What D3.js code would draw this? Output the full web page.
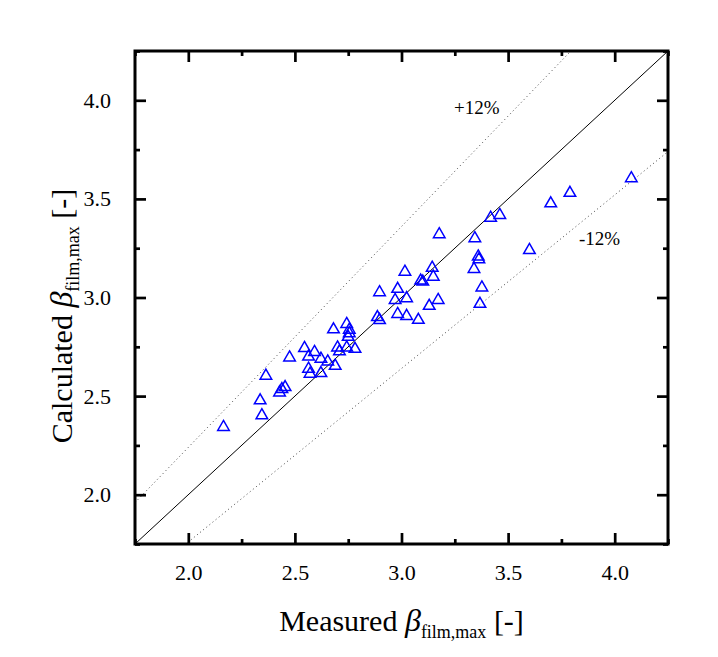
<!DOCTYPE html>
<html><head><meta charset="utf-8">
<script src="https://cdn.jsdelivr.net/npm/d3@7"></script>
<style>body{margin:0;background:#fff;} svg{display:block;}</style>
</head><body>
<svg id="c" width="718" height="657"></svg>
<script>
const measured = [2.165,2.337,2.345,2.364,2.428,2.439,2.454,2.475,2.545,2.564,2.592,2.622,2.654,2.564,2.571,2.622,2.689,2.681,2.700,2.709,2.743,2.782,2.743,2.755,2.755,2.750,2.887,2.897,2.897,2.970,2.982,2.982,3.016,3.024,3.024,3.079,3.090,3.100,3.130,3.144,3.149,3.172,3.177,3.344,3.340,3.360,3.363,3.368,3.377,3.418,3.461,3.600,3.700,3.790,4.078];
const calculated = [2.343,2.478,2.402,2.603,2.518,2.535,2.545,2.695,2.743,2.700,2.723,2.689,2.675,2.638,2.613,2.616,2.653,2.838,2.746,2.726,2.746,2.739,2.865,2.836,2.818,2.800,2.900,2.885,3.026,2.987,3.043,2.916,3.130,2.996,2.906,2.886,3.085,3.080,2.957,3.150,3.105,2.987,3.320,3.300,3.144,3.207,3.193,2.967,3.050,3.404,3.418,3.240,3.477,3.530,3.604];
const xTicks = [2.0,2.5,3.0,3.5,4.0];
const yTicks = [2.0,2.5,3.0,3.5,4.0];
const minorTicks = [1.75,2.25,2.75,3.25,3.75,4.25];
const bandFactors = [1.12, 0.88];
const bandLabels = ["+12%", "-12%"];
const domain = [1.75, 4.25];

const svg = d3.select("#c");
const L = 135, R = 668, T = 51, B = 544;
const x = d3.scaleLinear().domain(domain).range([L, R]);
const y = d3.scaleLinear().domain(domain).range([B, T]);
const font = "'Liberation Serif','Times New Roman',serif";

const clip = svg.append("clipPath").attr("id","pc").append("rect")
  .attr("x",L).attr("y",T).attr("width",R-L).attr("height",B-T);
const g = svg.append("g").attr("clip-path","url(#pc)");

// 1:1 line
g.append("line").attr("x1",x(domain[0])).attr("y1",y(domain[0]))
  .attr("x2",x(domain[1])).attr("y2",y(domain[1]))
  .attr("stroke","#000").attr("stroke-width",1);
// +-12% lines
bandFactors.forEach(f=>{
  g.append("line").attr("x1",x(domain[0])).attr("y1",y(domain[0]*f))
   .attr("x2",x(domain[1])).attr("y2",y(domain[1]*f))
   .attr("stroke","#444").attr("stroke-width",1).attr("stroke-dasharray","1,3");
});

// points
const sym = d3.symbol().type(d3.symbolTriangle).size(58);
svg.append("g").selectAll("path").data(measured.map((m,i)=>[m,calculated[i]]))
  .join("path").attr("d",sym)
  .attr("transform",d=>`translate(${x(d[0])},${y(d[1])})`)
  .attr("fill","none").attr("stroke","#0000ff").attr("stroke-width",1.5);

// axes: ticks inward on all four sides
const axB = d3.axisBottom(x).tickValues(xTicks).tickFormat(d3.format(".1f")).tickSizeInner(-11).tickSizeOuter(0).tickPadding(20);
const axL = d3.axisLeft(y).tickValues(yTicks).tickFormat(d3.format(".1f")).tickSizeInner(-11).tickSizeOuter(0).tickPadding(24);
const axT = d3.axisTop(x).tickValues(xTicks).tickFormat("").tickSizeInner(-11).tickSizeOuter(0);
const axR = d3.axisRight(y).tickValues(yTicks).tickFormat("").tickSizeInner(-11).tickSizeOuter(0);
const mB = d3.axisBottom(x).tickValues(minorTicks).tickFormat("").tickSizeInner(-5).tickSizeOuter(0);
const mL = d3.axisLeft(y).tickValues(minorTicks).tickFormat("").tickSizeInner(-5).tickSizeOuter(0);
const mT = d3.axisTop(x).tickValues(minorTicks).tickFormat("").tickSizeInner(-5).tickSizeOuter(0);
const mR = d3.axisRight(y).tickValues(minorTicks).tickFormat("").tickSizeInner(-5).tickSizeOuter(0);

function style(sel){
  sel.select(".domain").remove();
  sel.selectAll(".tick line").attr("stroke","#000").attr("stroke-width",2.7);
  sel.selectAll(".tick text").attr("font-family",font).attr("font-size",22).attr("fill","#000");
}
[[axB,`translate(0,${B})`],[mB,`translate(0,${B})`],[axT,`translate(0,${T})`],[mT,`translate(0,${T})`],
 [axL,`translate(${L},0)`],[mL,`translate(${L},0)`],[axR,`translate(${R},0)`],[mR,`translate(${R},0)`]]
 .forEach(([a,t])=>svg.append("g").attr("transform",t).call(a).call(style));

svg.append("rect").attr("x",L).attr("y",T).attr("width",R-L).attr("height",B-T)
  .attr("fill","none").attr("stroke","#000").attr("stroke-width",3);

// band labels
svg.append("text").attr("x",454).attr("y",114).attr("font-family",font).attr("font-size",19).text(bandLabels[0]);
svg.append("text").attr("x",579).attr("y",245).attr("font-family",font).attr("font-size",19).text(bandLabels[1]);

// axis titles
function title(sel){
  sel.attr("font-family",font).attr("font-size",30).attr("fill","#000");
  sel.append("tspan").text(sel.attr("data-pre")+" ");
  sel.append("tspan").attr("font-style","italic").attr("font-size",32).text("β");
  sel.append("tspan").attr("font-size",18).attr("dy",7).text("film,max");
  sel.append("tspan").attr("dy",-7).text(" [-]");
}
svg.append("text").attr("data-pre","Measured").attr("x",(L+R)/2).attr("y",631)
  .attr("text-anchor","middle").call(title);
svg.append("text").attr("data-pre","Calculated")
  .attr("transform",`translate(72,${316}) rotate(-90)`)
  .attr("text-anchor","middle").call(title);
</script>
</body></html>
